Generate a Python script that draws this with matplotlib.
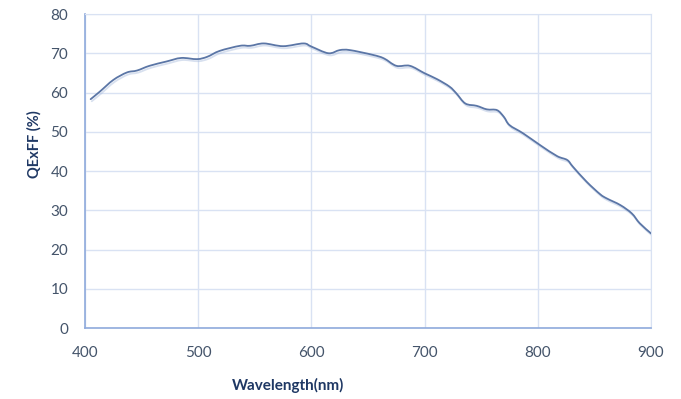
import matplotlib
matplotlib.use("Agg")
import matplotlib.pyplot as plt
import matplotlib.patheffects as pe
from matplotlib.path import Path
from matplotlib.patches import PathPatch

wavelength = [405, 413, 425, 437, 446, 457, 472, 485, 499, 508, 519, 537, 546, 558,
              575, 593, 600, 615, 625, 634, 654, 664, 675, 687, 700, 711, 722, 728,
              736, 746, 755, 764, 770, 775, 787, 802, 817, 826, 831, 843, 855, 861,
              873, 883, 890, 900]
qeff = [58.3, 60.2, 63.2, 65.1, 65.6, 66.8, 67.9, 68.8, 68.5, 69.1, 70.6, 71.9, 71.9, 72.5,
        71.8, 72.5, 71.7, 70.0, 70.8, 70.8, 69.6, 68.7, 66.8, 66.8, 64.9, 63.4, 61.5, 59.8,
        57.2, 56.6, 55.7, 55.5, 53.8, 51.7, 49.6, 46.6, 43.8, 42.8, 41.1, 37.3, 34.1, 33.0,
        31.3, 29.2, 26.7, 24.1]
xticks = [400, 500, 600, 700, 800, 900]
yticks = [0, 10, 20, 30, 40, 50, 60, 70, 80]

plt.rcParams['font.family'] = ['Lato', 'DejaVu Sans']

fig = plt.figure(figsize=(6.81, 3.99), dpi=100)
ax = fig.add_axes([85/681, 71/399, 566/681, 314/399])

grid_c = '#d9e2f3'
spine_c = '#8faadc'
tick_c = '#44546a'

# Smooth curve through the data points (Catmull-Rom as cubic Bezier segments)
pts = list(zip(wavelength, qeff))
verts = [pts[0]]
codes = [Path.MOVETO]
n = len(pts)
for i in range(n - 1):
    p0 = pts[i - 1] if i > 0 else pts[i]
    p1 = pts[i]
    p2 = pts[i + 1]
    p3 = pts[i + 2] if i + 2 < n else pts[i + 1]
    t = 1 / 6.0
    c1 = (p1[0] + (p2[0] - p0[0]) * t, p1[1] + (p2[1] - p0[1]) * t)
    c2 = (p2[0] - (p3[0] - p1[0]) * t, p2[1] - (p3[1] - p1[1]) * t)
    verts += [c1, c2, p2]
    codes += [Path.CURVE4] * 3
patch = PathPatch(Path(verts, codes), facecolor='none', edgecolor='#5b76a6', lw=1.3,
                  capstyle='round', joinstyle='round', zorder=3,
                  path_effects=[pe.SimpleLineShadow(offset=(0.8, -1.5), shadow_color='#a9bcdc', alpha=0.45),
                                pe.Normal()])
ax.add_patch(patch)

ax.set_xlim(400, 900)
ax.set_ylim(0, 80)
ax.set_xticks(xticks)
ax.set_yticks(yticks)
ax.grid(True, color=grid_c, lw=1.0)
ax.set_axisbelow(True)
for s in ['top', 'right']:
    ax.spines[s].set_color(grid_c)
for s in ['left', 'bottom']:
    ax.spines[s].set_color(spine_c)
    ax.spines[s].set_linewidth(1.2)
ax.tick_params(length=0, colors=tick_c, labelsize=11)
ax.tick_params(axis='x', pad=13)
ax.tick_params(axis='y', pad=12)

ax.set_xlabel('Wavelength(nm)', fontsize=11, fontweight='bold', color='#1f3864')
ax.xaxis.set_label_coords(0.358, -0.158)
ax.set_ylabel('QExFF (%)', fontsize=10.5, fontweight='bold', color='#1f3864')
ax.yaxis.set_label_coords(-0.077, 0.585)

fig.savefig('out.png', dpi=100, facecolor='white')
